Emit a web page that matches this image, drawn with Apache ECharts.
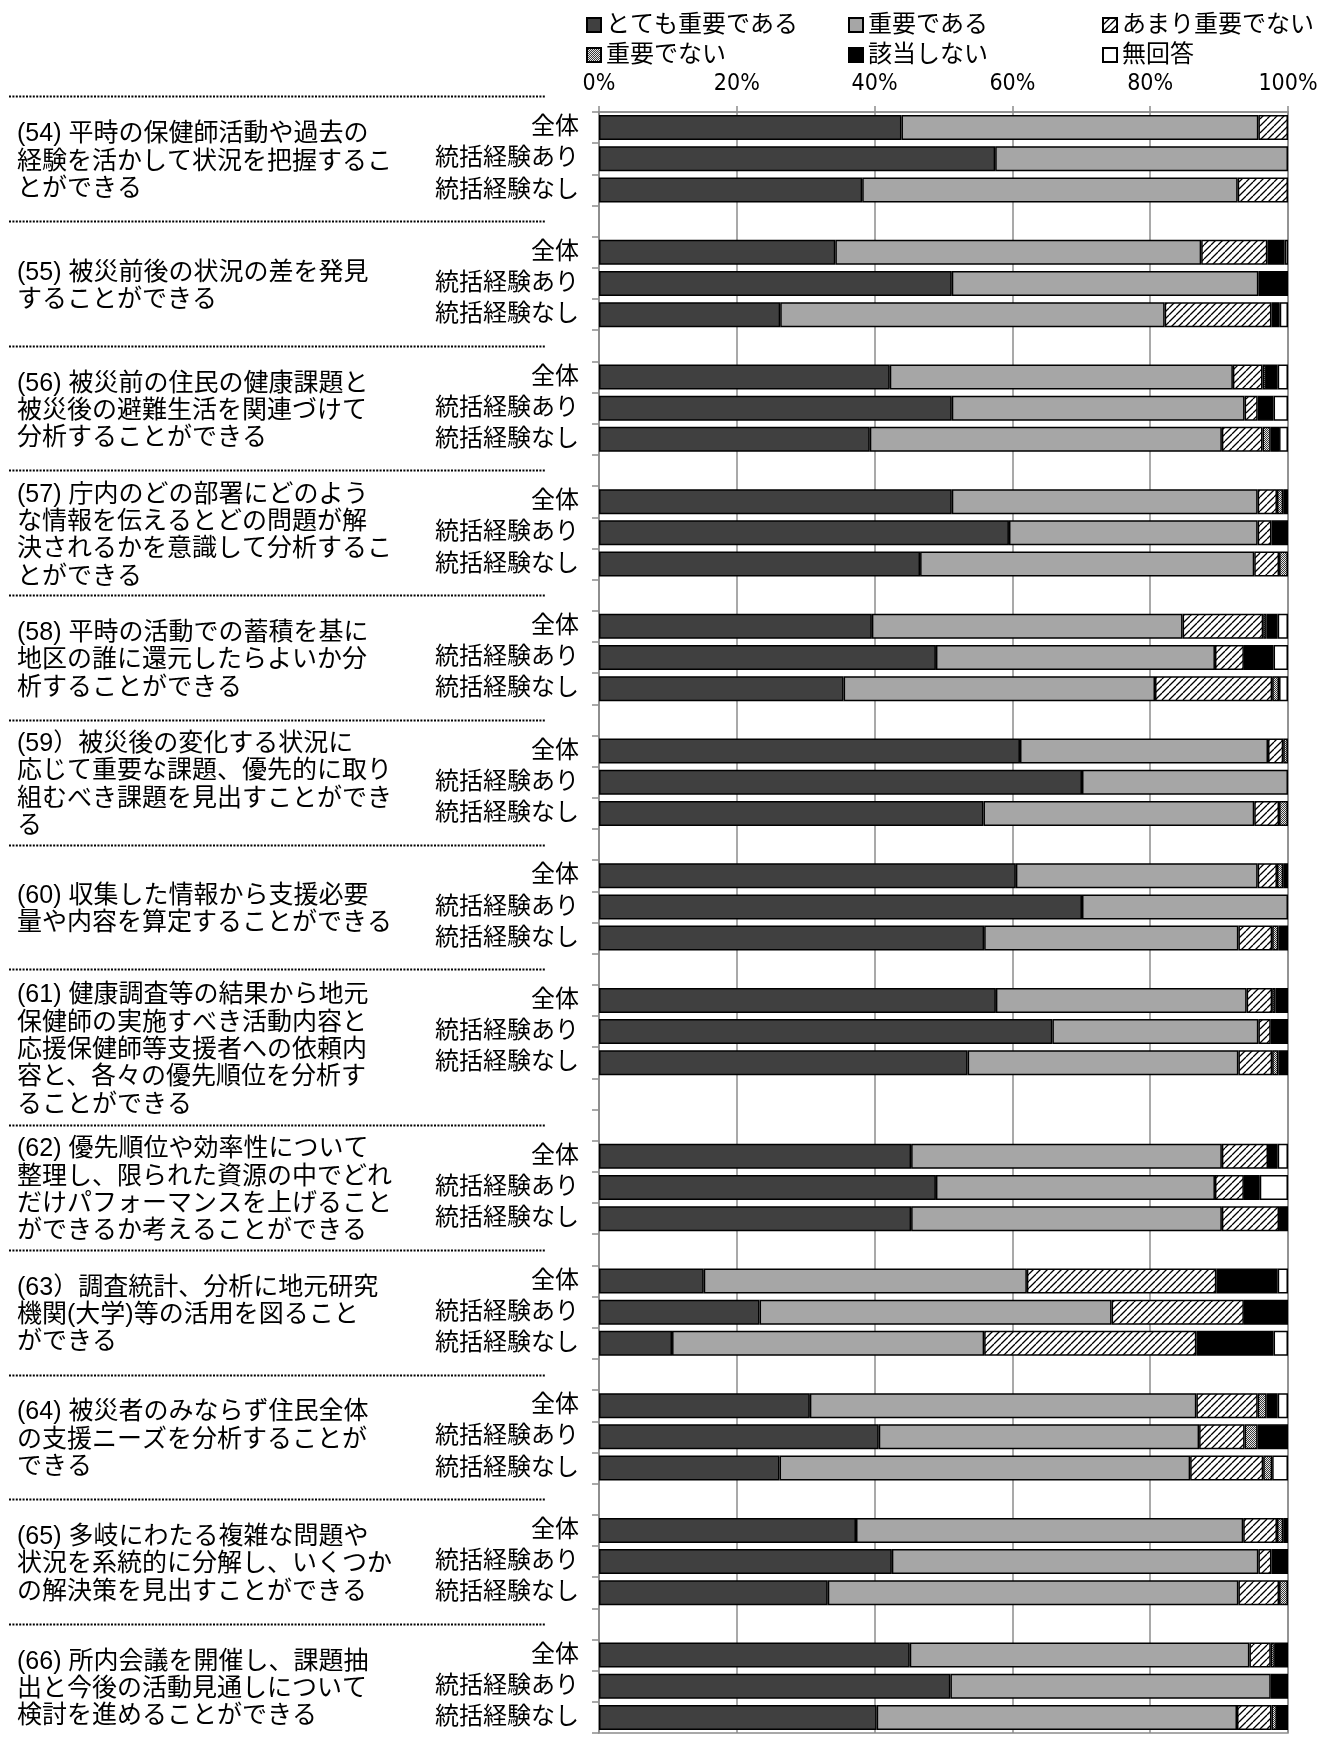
<!DOCTYPE html>
<html>
<head>
<meta charset="utf-8">
<script src="https://cdn.jsdelivr.net/npm/echarts@6/dist/echarts.min.js"></script>
<style>
  html, body { margin: 0; padding: 0; background: #fff; }
  #chart { width: 1335px; height: 1746px; }
</style>
</head>
<body>
<div id="chart"></div>
<script>
// Survey items (54)-(66)
const questions = [
  '(54) 平時の保健師活動や過去の\n経験を活かして状況を把握するこ\nとができる',
  '(55) 被災前後の状況の差を発見\nすることができる',
  '(56) 被災前の住民の健康課題と\n被災後の避難生活を関連づけて\n分析することができる',
  '(57) 庁内のどの部署にどのよう\nな情報を伝えるとどの問題が解\n決されるかを意識して分析するこ\nとができる',
  '(58) 平時の活動での蓄積を基に\n地区の誰に還元したらよいか分\n析することができる',
  '(59）被災後の変化する状況に\n応じて重要な課題、優先的に取り\n組むべき課題を見出すことができ\nる',
  '(60) 収集した情報から支援必要\n量や内容を算定することができる',
  '(61) 健康調査等の結果から地元\n保健師の実施すべき活動内容と\n応援保健師等支援者への依頼内\n容と、各々の優先順位を分析す\nることができる',
  '(62) 優先順位や効率性について\n整理し、限られた資源の中でどれ\nだけパフォーマンスを上げること\nができるか考えることができる',
  '(63）調査統計、分析に地元研究\n機関(大学)等の活用を図ること\nができる',
  '(64) 被災者のみならず住民全体\nの支援ニーズを分析することが\nできる',
  '(65) 多岐にわたる複雑な問題や\n状況を系統的に分解し、いくつか\nの解決策を見出すことができる',
  '(66) 所内会議を開催し、課題抽\n出と今後の活動見通しについて\n検討を進めることができる'
];

// Respondent groups shown for every item
const groups = ['全体', '統括経験あり', '統括経験なし'];

// Response categories
const seriesNames = ['とても重要である', '重要である', 'あまり重要でない', '重要でない', '該当しない', '無回答'];

// Percentages, ordered item by item: 全体, 統括経験あり, 統括経験なし
const veryImportant = [
  43.9, 57.5, 38.2,  34.3, 51.2, 26.3,  42.2, 51.2, 39.3,  51.2, 59.5, 46.6,
  39.6, 48.9, 35.5,  61.1, 70.1, 55.8,  60.5, 70.1, 55.9,  57.6, 65.8, 53.5,
  45.3, 48.9, 45.3,  15.2, 23.3, 10.6,  30.6, 40.6, 26.2,  37.3, 42.5, 33.2,
  45.1, 51.0, 40.3
];
const important = [
  51.8, 42.5, 54.5,  53.1, 44.5, 55.8,  49.8, 42.5, 51.1,  44.4, 36.1, 48.5,
  45.1, 40.5, 45.2,  36.0, 29.9, 39.3,  35.1, 29.9, 36.9,  36.4, 29.9, 39.3,
  45.1, 40.5, 45.1,  46.9, 51.1, 45.3,  56.1, 46.5, 59.6,  56.2, 53.2, 59.6,
  49.3, 46.5, 52.3
];
const notVeryImportant = [
  4.3, 0, 7.3,  9.6, 0, 15.5,  4.3, 1.9, 5.9,  2.8, 2.0, 3.6,
  11.7, 4.2, 17.0,  2.2, 0, 3.6,  2.8, 0, 4.9,  3.7, 1.8, 4.9,
  6.7, 4.2, 8.3,  27.5, 19.2, 30.8,  8.9, 6.6, 10.6,  4.9, 1.9, 5.9,
  3.1, 0, 5.0
];
const notImportant = [
  0, 0, 0,  0, 0, 0,  0.5, 0, 1.2,  0.9, 0, 1.3,
  0.5, 0, 1.0,  0.7, 0, 1.3,  0.9, 0, 0.9,  0.5, 0, 0.9,
  0, 0, 0,  0, 0, 0,  1.3, 1.9, 1.3,  0.9, 0, 1.3,
  0.6, 0, 0.8
];
const notApplicable = [
  0, 0, 0,  2.5, 4.3, 1.2,  1.7, 2.3, 1.2,  0.7, 2.4, 0,
  1.6, 4.3, 0,  0, 0, 0,  0.7, 0, 1.4,  1.8, 2.5, 1.4,
  1.4, 2.3, 1.3,  8.9, 6.4, 11.2,  1.6, 4.4, 0,  0.7, 2.4, 0,
  1.9, 2.5, 1.6
];
const noAnswer = [
  0, 0, 0,  0.5, 0, 1.2,  1.5, 2.1, 1.3,  0, 0, 0,
  1.5, 2.1, 1.3,  0, 0, 0,  0, 0, 0,  0, 0, 0,
  1.5, 4.1, 0,  1.5, 0, 2.1,  1.5, 0, 2.3,  0, 0, 0,
  0, 0, 0
];

// Number of empty rows left after each item
const gapRows = [1, 1, 1, 1, 1, 1, 1, 2, 1, 1, 1, 1, 0];

const xTicks = [0, 20, 40, 60, 80, 100];

// ---- fill patterns ----
function hatchPattern() {
  const s = 7;
  const c = document.createElement('canvas');
  c.width = s; c.height = s;
  const g = c.getContext('2d');
  g.fillStyle = '#fff';
  g.fillRect(0, 0, s, s);
  g.strokeStyle = '#000';
  g.lineWidth = 1.3;
  g.beginPath();
  for (let k = -1; k <= 1; k++) {
    g.moveTo(k * s, s);
    g.lineTo(k * s + s, 0);
  }
  g.stroke();
  return c;
}
function ditherPattern() {
  const c = document.createElement('canvas');
  c.width = 2; c.height = 2;
  const g = c.getContext('2d');
  g.fillStyle = '#e6e6e6';
  g.fillRect(0, 0, 2, 2);
  g.fillStyle = '#3a3a3a';
  g.fillRect(0, 0, 1, 1);
  g.fillRect(1, 1, 1, 1);
  return c;
}

const fills = [
  '#404040',
  '#a6a6a6',
  { image: hatchPattern(), repeat: 'repeat' },
  { image: ditherPattern(), repeat: 'repeat' },
  '#000000',
  '#ffffff'
];

// ---- category rows with spacer rows ----
const categories = [];
const rowOfValue = [];       // row index for each value index
const firstRowOfItem = [];   // row index of 全体 for each item
questions.forEach((q, qi) => {
  firstRowOfItem.push(categories.length);
  groups.forEach(gName => {
    rowOfValue.push(categories.length);
    categories.push(gName);
  });
  for (let k = 0; k < gapRows[qi]; k++) categories.push('');
});

function toRows(values) {
  const rows = categories.map(() => '-');
  values.forEach((v, i) => { rows[rowOfValue[i]] = v === 0 ? '-' : v; });
  return rows;
}

const seriesValues = [veryImportant, important, notVeryImportant, notImportant, notApplicable, noAnswer];

const JP = "'Liberation Sans', 'Noto Sans CJK JP', sans-serif";
const GRID_COLOR = '#8c8c8c';

const chart = echarts.init(document.getElementById('chart'), null, { renderer: 'canvas' });

const legendBase = {
  orient: 'vertical',
  top: 8,
  itemWidth: 14,
  itemHeight: 14,
  itemGap: 6,
  icon: 'rect',
  selectedMode: false,
  textStyle: { fontFamily: JP, fontSize: 24, lineHeight: 24, color: '#000', padding: [0, 0, 0, 0] }
};

chart.setOption({
  animation: false,
  backgroundColor: '#fff',
  legend: [
    Object.assign({}, legendBase, { left: 581, data: [seriesNames[0], seriesNames[3]] }),
    Object.assign({}, legendBase, { left: 843, data: [seriesNames[1], seriesNames[4]] }),
    Object.assign({}, legendBase, { left: 1097, data: [seriesNames[2], seriesNames[5]] })
  ],
  grid: {
    left: 599, right: 47, top: 112, bottom: 13,
    containLabel: false,
    show: true, borderColor: GRID_COLOR, borderWidth: 1.5, backgroundColor: 'transparent'
  },
  xAxis: {
    type: 'value',
    position: 'top',
    min: xTicks[0],
    max: xTicks[xTicks.length - 1],
    interval: xTicks[1] - xTicks[0],
    axisLine: { show: true, lineStyle: { color: GRID_COLOR, width: 1.5 } },
    axisTick: { show: true, length: 6, lineStyle: { color: GRID_COLOR, width: 1.5 } },
    splitLine: { show: true, lineStyle: { color: GRID_COLOR, width: 1.5 } },
    axisLabel: {
      formatter: '{value}%',
      fontFamily: "'DejaVu Sans Condensed', 'DejaVu Sans', sans-serif",
      fontSize: 23,
      color: '#000',
      margin: 16
    }
  },
  yAxis: {
    type: 'category',
    inverse: true,
    data: categories,
    axisLine: { show: true, lineStyle: { color: GRID_COLOR, width: 1.5 } },
    axisTick: { show: true, interval: 0, length: 7, lineStyle: { color: GRID_COLOR, width: 1.5 } },
    axisLabel: { interval: 0, fontFamily: JP, fontSize: 24, color: '#000', margin: 20 },
    splitLine: { show: false }
  },
  series: seriesNames.map((name, i) => ({
    name: name,
    type: 'bar',
    stack: 'total',
    barWidth: 25,
    data: toRows(seriesValues[i]),
    itemStyle: { color: fills[i], borderColor: '#000', borderWidth: 1.5 },
    emphasis: { disabled: true }
  }))
});

// Item texts and dotted separators, placed on the category rows
const graphics = [];
const rowPx = i => chart.convertToPixel({ yAxisIndex: 0 }, i);
const rowH = rowPx(1) - rowPx(0);
const labelShift = [0, 0, 0, 0, 0, 0, 0, 0.5, 0, 0, 0, 0, 0];
questions.forEach((q, qi) => {
  const r0 = firstRowOfItem[qi];
  const sepY = Math.round(rowPx(r0) - rowH) + 0.5;
  graphics.push({
    type: 'line',
    shape: { x1: 9, y1: sepY, x2: 546, y2: sepY },
    style: { stroke: '#000', lineWidth: 2, lineDash: [2, 1.4] },
    silent: true
  });
  graphics.push({
    type: 'text',
    x: 17,
    y: rowPx(r0 + 1) + labelShift[qi] * rowH + 3,
    style: {
      text: q,
      fontFamily: JP,
      fontSize: 25,
      lineHeight: 27.3,
      fill: '#000',
      verticalAlign: 'middle',
      align: 'left'
    },
    silent: true
  });
});
chart.setOption({ graphic: graphics });
</script>
</body>
</html>
